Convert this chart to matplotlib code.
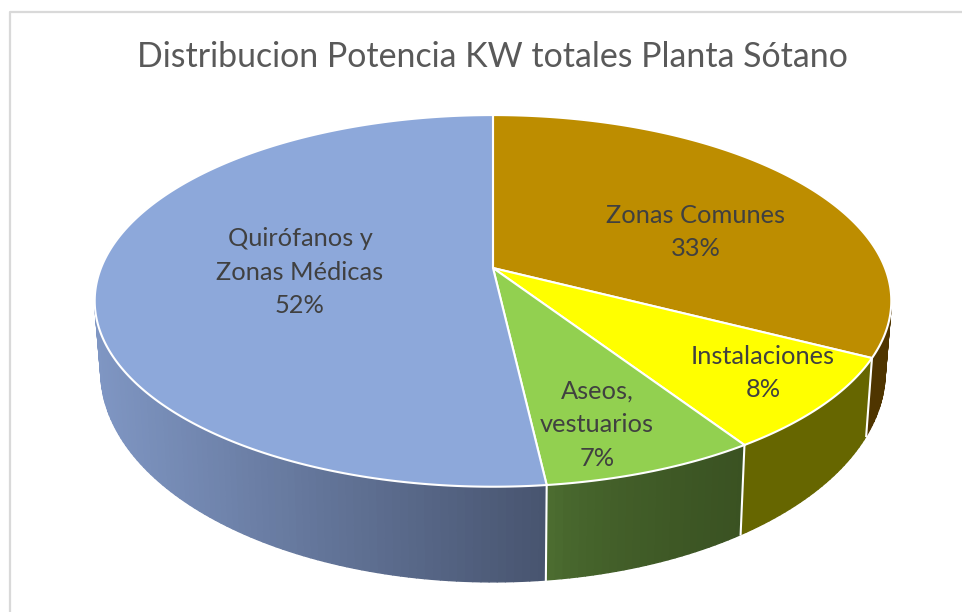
import numpy as np
import matplotlib
matplotlib.use("Agg")
import matplotlib.pyplot as plt
from matplotlib.collections import PolyCollection
from matplotlib.patches import Polygon
from matplotlib.colors import to_rgb

title = "Distribucion Potencia KW totales Planta Sótano"
labels = ["Zonas Comunes", "Instalaciones", "Aseos,\nvestuarios", "Quirófanos y\nZonas Médicas"]
values = [32.6, 8.2, 7.4, 51.8]
top_colors = ["#bd8d00", "#ffff00", "#92d050", "#8da8da"]
wall_left = ["#4f3500", "#666600", "#4e7032", "#7f96c3"]
wall_right = ["#4f3500", "#666600", "#3a5222", "#47546f"]
wall_power = [1.0, 1.0, 0.55, 1.0]
label_xy = [(696, 232), (763, 373), (597, 425), (300, 272)]

CX, CY, A, B, K = 493.0, 268.0, 392.0, 180.0, 0.177
CY2, A2, B2 = 334.0, 386.0, 204.0


def project(theta, cy, a, b):
    u, v = np.sin(theta), np.cos(theta)
    d = 1 + K * v
    return CX + a * u / d, cy - b * v / d


fig = plt.figure(figsize=(9.63, 6.12), dpi=100)
ax = fig.add_axes([0, 0, 1, 1])
ax.set_xlim(0, 963)
ax.set_ylim(612, 0)
ax.axis("off")

# chart frame
ax.plot([9.5, 9.5, 962], [612, 11.5, 11.5], color="#d9d9d9", lw=1.6, solid_capstyle="butt")

edges = np.radians(np.concatenate([[0], np.cumsum(values)]) * 3.6)
vis_lo, vis_hi = np.radians(99), np.radians(261)

# side walls (visible front part only)
for i, val in enumerate(values):
    lo, hi = max(edges[i], vis_lo), min(edges[i + 1], vis_hi)
    if hi <= lo:
        continue
    ts = np.linspace(lo, hi, int(np.degrees(hi - lo)) + 2)
    xt, yt = project(ts, CY, A, B)
    xb, yb = project(ts, CY2, A2, B2)
    x_ends = [xb.min(), xb.max()]
    polys, cols = [], []
    c0, c1 = np.array(to_rgb(wall_left[i])), np.array(to_rgb(wall_right[i]))
    for j in range(len(ts) - 1):
        polys.append([(xt[j], yt[j]), (xt[j + 1], yt[j + 1]), (xb[j + 1], yb[j + 1]), (xb[j], yb[j])])
        f = (0.5 * (xb[j] + xb[j + 1]) - x_ends[0]) / max(x_ends[1] - x_ends[0], 1)
        cols.append(c0 + (c1 - c0) * f ** wall_power[i])
    ax.add_collection(PolyCollection(polys, facecolors=cols, edgecolors=cols, linewidths=1.0, zorder=2))

# white seams between wall segments
for e in edges[1:-1]:
    xa, ya = project(e, CY, A, B)
    xc, yc = project(e, CY2, A2, B2)
    ax.plot([xa, xc], [ya, yc], color="white", lw=1.5, zorder=3)

# top face
for i, col in enumerate(top_colors):
    ts = np.linspace(edges[i], edges[i + 1], 300)
    xt, yt = project(ts, CY, A, B)
    pts = np.column_stack([np.r_[CX, xt], np.r_[CY, yt]])
    ax.add_patch(Polygon(pts, closed=True, facecolor=col, edgecolor="white", lw=1.5, zorder=4, joinstyle="round"))

# data labels
total = sum(values)
for name, val, (x, y) in zip(labels, values, label_xy):
    ax.text(x, y, f"{name}\n{round(100 * val / total)}%", ha="center", va="center",
            family="Lato", fontsize=18.3, color="#404040", linespacing=1.56, zorder=5)

ax.text(492.5, 57, title, ha="center", va="center", family="Lato", fontsize=24.4, color="#595959")

fig.savefig("out.png", dpi=100)
